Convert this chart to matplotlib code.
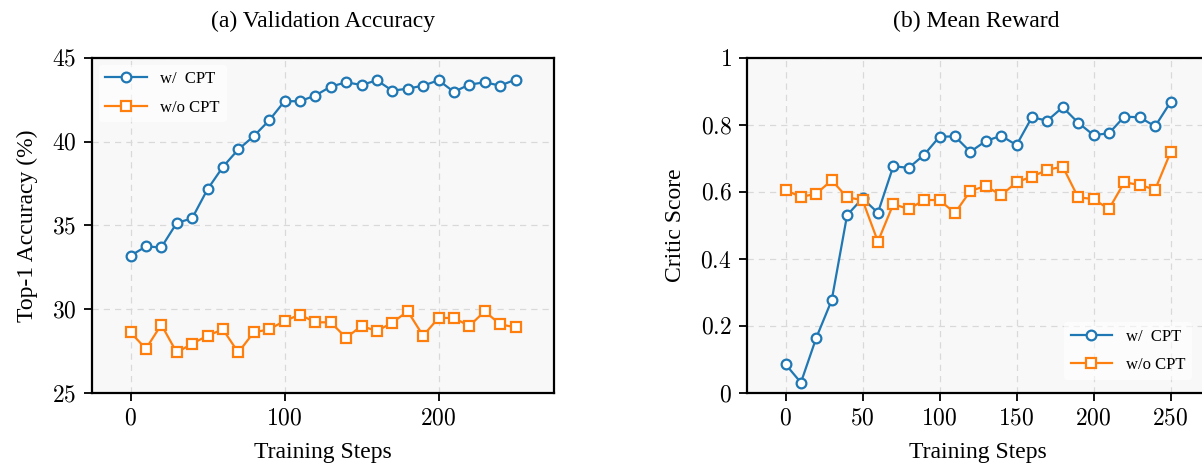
import matplotlib
matplotlib.use("Agg")
import matplotlib.pyplot as plt
from matplotlib.ticker import FuncFormatter, MultipleLocator

plt.rcParams['font.family'] = ['Liberation Serif', 'DejaVu Serif']
plt.rcParams['mathtext.fontset'] = 'cm'

steps = list(range(0, 251, 10))

acc_with_cpt = [33.19, 33.75, 33.69, 35.15, 35.43, 37.16, 38.5, 39.54, 40.33, 41.27,
                42.42, 42.42, 42.76, 43.29, 43.55, 43.39, 43.67, 43.05, 43.17, 43.35,
                43.67, 42.98, 43.41, 43.55, 43.35, 43.71]
acc_without_cpt = [28.62, 27.64, 29.08, 27.42, 27.94, 28.42, 28.8, 27.42, 28.62, 28.8,
                   29.3, 29.68, 29.22, 29.22, 28.3, 29.0, 28.7, 29.2, 29.88, 28.42,
                   29.48, 29.48, 29.0, 29.88, 29.1, 28.92]

reward_with_cpt = [0.086, 0.031, 0.165, 0.277, 0.531, 0.581, 0.538, 0.677, 0.672, 0.711,
                   0.765, 0.766, 0.72, 0.752, 0.768, 0.74, 0.823, 0.813, 0.853, 0.807,
                   0.77, 0.775, 0.825, 0.823, 0.796, 0.868]
reward_without_cpt = [0.606, 0.585, 0.595, 0.635, 0.584, 0.576, 0.452, 0.564, 0.549, 0.576,
                      0.576, 0.537, 0.603, 0.618, 0.59, 0.629, 0.646, 0.666, 0.676, 0.584,
                      0.579, 0.549, 0.629, 0.621, 0.607, 0.718]

series_labels = ["w/  CPT", "w/o CPT"]
titles = ["(a) Validation Accuracy", "(b) Mean Reward"]
ylabels = ["Top-1 Accuracy (%)", "Critic Score"]
xlabel = "Training Steps"

BLUE = "#1f77b4"
ORANGE = "#ff7f0e"

fig = plt.figure(figsize=(12.02, 4.65), dpi=100)
W, H = 1202, 465
ax1 = fig.add_axes([92 / W, (H - 393) / H, 462 / W, 335 / H])
ax2 = fig.add_axes([747 / W, (H - 393) / H, 462 / W, 335 / H])

fmt = FuncFormatter(lambda v, p: f"${v:g}$")

def style(ax):
    ax.set_facecolor("#f8f8f8")
    ax.grid(True, linestyle=(0, (5, 4)), color="#d9d9d9", linewidth=0.9)
    ax.set_axisbelow(True)
    for s in ax.spines.values():
        s.set_linewidth(1.6)
        s.set_color("black")
    ax.tick_params(axis='both', direction='out', length=6, width=1.3, labelsize=17, pad=5)
    ax.xaxis.set_major_formatter(fmt)
    ax.yaxis.set_major_formatter(fmt)
    ax.set_xlim(-25, 275)
    ax.set_xlabel(xlabel, fontsize=17, labelpad=9)

def plot_pair(ax, a, b):
    ax.plot(steps, a, color=BLUE, lw=1.6, marker='o', ms=7, mfc='white', mec=BLUE, mew=1.6,
            label=series_labels[0], zorder=3)
    ax.plot(steps, b, color=ORANGE, lw=1.6, marker='s', ms=7, mfc='white', mec=ORANGE, mew=1.6,
            label=series_labels[1], zorder=3)

plot_pair(ax1, acc_with_cpt, acc_without_cpt)
style(ax1)
ax1.set_ylim(25, 45)
ax1.yaxis.set_major_locator(MultipleLocator(5))
ax1.xaxis.set_major_locator(MultipleLocator(100))
ax1.set_ylabel(ylabels[0], fontsize=17, labelpad=10)
ax1.legend(loc='upper left', fontsize=12, frameon=True, facecolor='white', edgecolor='none',
           framealpha=0.6, handlelength=2.5, labelspacing=0.75, borderaxespad=0.4)

plot_pair(ax2, reward_with_cpt, reward_without_cpt)
style(ax2)
ax2.set_ylim(0, 1)
ax2.yaxis.set_major_locator(MultipleLocator(0.2))
ax2.xaxis.set_major_locator(MultipleLocator(50))
ax2.set_ylabel(ylabels[1], fontsize=17, labelpad=10)
ax2.legend(loc='lower right', bbox_to_anchor=(1200 / W, (H - 388) / H), bbox_transform=fig.transFigure,
           fontsize=12, frameon=True, facecolor='white', edgecolor='none',
           framealpha=0.6, handlelength=2.5, labelspacing=0.75)

fig.text(323 / W, 1 - 21 / H, titles[0], ha='center', va='center', fontsize=17)
fig.text(976 / W, 1 - 21 / H, titles[1], ha='center', va='center', fontsize=17)

fig.savefig("out.png", dpi=100)
